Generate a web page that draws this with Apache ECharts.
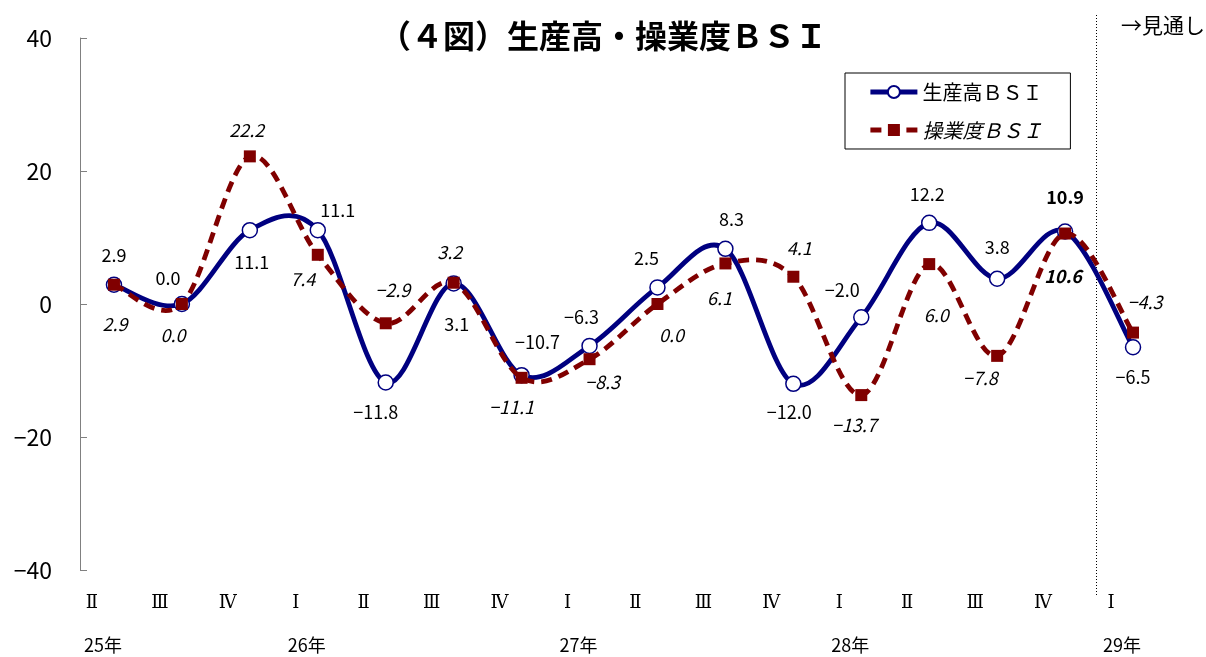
<!DOCTYPE html>
<html>
<head>
<meta charset="utf-8">
<script src="https://cdn.jsdelivr.net/npm/echarts@6/dist/echarts.min.js"></script>
<style>
html,body{margin:0;padding:0;background:#fff;}
#chart{width:1206px;height:657px;}
</style>
</head>
<body>
<div id="chart"></div>
<script>
// ---- data ----
var quarters = ['Ⅱ','Ⅲ','Ⅳ','Ⅰ','Ⅱ','Ⅲ','Ⅳ','Ⅰ','Ⅱ','Ⅲ','Ⅳ','Ⅰ','Ⅱ','Ⅲ','Ⅳ','Ⅰ'];
var years = ['25年','','','26年','','','','27年','','','','28年','','','','29年'];
var production = [2.9, 0.0, 11.1, 11.1, -11.8, 3.1, -10.7, -6.3, 2.5, 8.3, -12.0, -2.0, 12.2, 3.8, 10.9, -6.5];
var operation = [2.9, 0.0, 22.2, 7.4, -2.9, 3.2, -11.1, -8.3, 0.0, 6.1, 4.1, -13.7, 6.0, -7.8, 10.6, -4.3];
var yTicks = [-40, -20, 0, 20, 40];

// ---- label placement (pixel offsets from each point) ----
var prodLabelOffset = [[0,-30],[-14,-26],[2,32],[20,-20],[-10,30],[3,41],[16,-33],[-8,-29],[-11,-29],[6,-30],[-4,28],[-19,-27],[-2,-29],[0,-32],[0,-34],[0,30]];
var opLabelOffset = [[1,39],[-9,31],[-3,-26],[-15,24],[7,-33],[-4,-31],[-10,29],[13,23],[14,31],[-6,35],[6,-29],[-7,30],[7,51],[-17,22],[-2,43],[12,-30]];
var boldIndex = 14;
var forecastStart = 15;

var NAVY = '#000080', MAROON = '#800000';
var DASH = [11, 7];
var LINE_W = 4.8;

function fmt(v){ var s = Number(v).toFixed(1); return s.charAt(0)==='-' ? '\u2212' + s.slice(1) : s; }

var FONT = '"Noto Sans CJK JP", "Liberation Sans", sans-serif';

function buildData(values, offsets, italic){
  return values.map(function(v, i){
    return {
      value: v,
      label: {
        offset: offsets[i],
        fontWeight: i === boldIndex ? 'bold' : 'normal',
        fontStyle: italic ? 'italic' : 'normal'
      }
    };
  });
}

// Spreadsheet-style smoothed curve (cardinal spline, 1/6 tangents) through the axis coordinates
function curveRenderer(values, color, dash){
  return function(params, api){
    if (params.dataIndex !== 0) return null;
    var p = values.map(function(v, i){ return api.coord([i, v]); });
    var n = p.length;
    function tan(i){
      var a = p[Math.max(i - 1, 0)], b = p[Math.min(i + 1, n - 1)];
      return [(b[0] - a[0]) / 6, (b[1] - a[1]) / 6];
    }
    var d = 'M' + p[0][0] + ' ' + p[0][1];
    for (var i = 0; i < n - 1; i++){
      var t0 = tan(i), t1 = tan(i + 1);
      d += ' C' + (p[i][0] + t0[0]) + ' ' + (p[i][1] + t0[1]) + ' ' +
           (p[i+1][0] - t1[0]) + ' ' + (p[i+1][1] - t1[1]) + ' ' +
           p[i+1][0] + ' ' + p[i+1][1];
    }
    return {
      type: 'path',
      shape: { pathData: d },
      style: { fill: 'none', stroke: color, lineWidth: LINE_W, lineDash: dash || null, lineCap: 'butt', lineJoin: 'round' },
      silent: true
    };
  };
}

var chart = echarts.init(document.getElementById('chart'));
var option = {
  backgroundColor: '#fff',
  animation: false,
  textStyle: { fontFamily: FONT },
  title: {
    text: '（４図）生産高・操業度ＢＳＩ',
    left: 'center',
    top: 15,
    textStyle: { fontFamily: FONT, fontSize: 32, fontWeight: 'bold', color: '#000' }
  },
  legend: {
    orient: 'vertical',
    left: 845,
    top: 73,
    padding: [9, 28, 9, 23],
    itemGap: 18,
    itemWidth: 47,
    itemHeight: 15,
    borderColor: '#000',
    borderWidth: 1,
    textStyle: { fontFamily: FONT, fontSize: 20, color: '#000' },
    data: [
      { name: '生産高ＢＳＩ', lineStyle: { color: NAVY, width: LINE_W, opacity: 1 } },
      { name: '操業度ＢＳＩ', lineStyle: { color: MAROON, width: LINE_W, type: DASH, opacity: 1 }, textStyle: { fontStyle: 'italic' } }
    ]
  },
  grid: { left: 80, right: 39, top: 38, bottom: 87 },
  xAxis: [
    {
      type: 'category',
      data: quarters,
      boundaryGap: true,
      axisLine: { show: false },
      axisTick: { show: false },
      splitLine: { show: false },
      axisLabel: { interval: 0, margin: 24, padding: [0, 44, 0, 0], fontSize: 18, color: '#000', fontFamily: '"DejaVu Serif", serif' }
    },
    {
      type: 'category',
      data: quarters,
      position: 'bottom',
      boundaryGap: true,
      axisLine: { show: false },
      axisTick: { show: false },
      splitLine: { show: false },
      axisLabel: {
        interval: 0, margin: 66, padding: [0, 22, 0, 0], fontSize: 18, color: '#000', fontFamily: FONT,
        formatter: function(v, i){ return years[i]; }
      }
    }
  ],
  yAxis: {
    type: 'value',
    min: yTicks[0],
    max: yTicks[yTicks.length - 1],
    interval: yTicks[1] - yTicks[0],
    axisLine: { show: true, lineStyle: { color: '#808080', width: 1 } },
    axisTick: { show: true, inside: true, length: 7, lineStyle: { color: '#808080' } },
    splitLine: { show: false },
    axisLabel: { margin: 28, fontSize: 23, color: '#000', fontFamily: FONT, formatter: function(v){ return v < 0 ? '\u2212' + Math.abs(v) : String(v); } }
  },
  series: [
    {
      name: 'prodCurve',
      type: 'custom',
      coordinateSystem: 'cartesian2d',
      renderItem: curveRenderer(production, NAVY, null),
      data: production.map(function(v, i){ return [i, v]; }),
      encode: { x: 0, y: 1 },
      z: 1
    },
    {
      name: '生産高ＢＳＩ',
      type: 'line',
      symbol: 'circle',
      symbolSize: 15,
      itemStyle: { color: '#fff', borderColor: NAVY, borderWidth: 1.5 },
      lineStyle: { color: NAVY, width: LINE_W, opacity: 0 },
      label: {
        show: true, position: 'inside', fontSize: 18, color: '#000', fontFamily: FONT,
        formatter: function(p){ return fmt(p.value); }
      },
      data: buildData(production, prodLabelOffset, false),
      z: 2
    },
    {
      name: 'opCurve',
      type: 'custom',
      coordinateSystem: 'cartesian2d',
      renderItem: curveRenderer(operation, MAROON, DASH),
      data: operation.map(function(v, i){ return [i, v]; }),
      encode: { x: 0, y: 1 },
      z: 3
    },
    {
      name: '操業度ＢＳＩ',
      type: 'line',
      symbol: 'rect',
      symbolSize: 12,
      itemStyle: { color: MAROON },
      lineStyle: { color: MAROON, width: LINE_W, type: DASH, opacity: 0 },
      label: {
        show: true, position: 'inside', fontSize: 18, color: '#000', fontFamily: FONT,
        formatter: function(p){ return fmt(p.value); }
      },
      data: buildData(operation, opLabelOffset, true),
      z: 4
    }
  ]
};
chart.setOption(option);

// forecast divider between last actual and forecast category
var xa = chart.convertToPixel({ xAxisIndex: 0 }, forecastStart - 1);
var xb = chart.convertToPixel({ xAxisIndex: 0 }, forecastStart);
var xd = Math.round((xa + xb) / 2) - 2.5;
chart.setOption({
  graphic: [
    {
      type: 'line',
      shape: { x1: xd, y1: 15, x2: xd, y2: 597 },
      style: { stroke: '#000', lineWidth: 1, lineDash: [1, 2] },
      silent: true
    },
    {
      type: 'text',
      right: 1,
      top: 15,
      style: { text: '→見通し', font: '21px ' + FONT, fill: '#000' },
      silent: true
    }
  ]
});
</script>
</body>
</html>
